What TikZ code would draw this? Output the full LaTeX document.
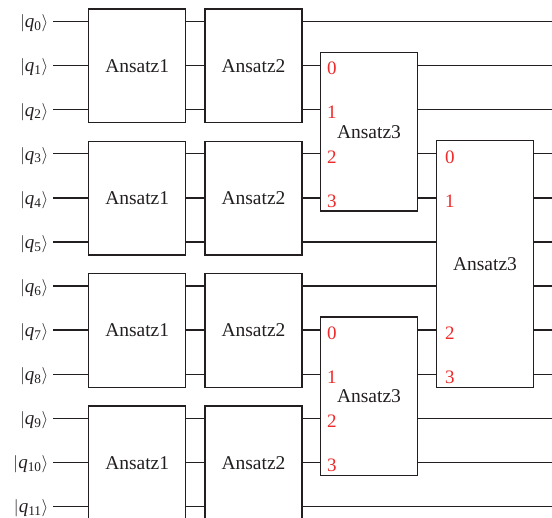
\documentclass[tikz,border=0pt]{standalone}
\usepackage{fontspec}
\setmainfont{Liberation Serif}
\definecolor{ink}{HTML}{231F20}
\definecolor{portred}{HTML}{EE2A2A}
\begin{document}
\begin{tikzpicture}[x=1pt,y=-1pt,
  wire/.style={draw=ink, line width=1.4pt},
  gate/.style={draw=ink, line width=1.4pt, fill=white, minimum width=97pt, inner sep=0pt,
    font=\fontsize{19.5}{22}\selectfont, text=ink},
  port/.style={text=portred, anchor=west, inner sep=0pt, font=\fontsize{19}{22}\selectfont},
  qlabel/.style={anchor=east, inner xsep=4.5pt, inner ysep=0pt, font=\fontsize{19}{22}\selectfont, text=ink}]
\useasboundingbox (0,0) rectangle (552,518);
% wires
\foreach \i in {0,...,11} {
  \pgfmathsetmacro\yy{21.5+44.1*\i}
  \coordinate (s\i) at (53,\yy);
  \coordinate (e\i) at (552,\yy);
  \node[qlabel, yshift=-2pt] (q\i) at (s\i) {$|$\textit{q}\textsubscript{\i}$\rangle$};
  \draw[wire] (s\i) -- (e\i);
}
% Ansatz1 and Ansatz2 layers
\foreach \g/\c in {0/65.85, 1/198.15, 2/330.45, 3/462.75} {
  \node[gate, minimum height=113.7pt] (Aa\g) at (137.2,\c) {Ansatz1};
  \node[gate, minimum height=113.7pt] (Ab\g) at (253.5,\c) {Ansatz2};
}
% Ansatz3 gates
\node[gate, minimum height=158.3pt] (T) at (369,131.75) {Ansatz3};
\node[gate, minimum height=158.3pt] (B) at (369,396.35) {Ansatz3};
\node[gate, minimum height=246.5pt] (C) at (485,264.05) {Ansatz3};
% port labels
\foreach \r/\l in {1/0, 2/1, 3/2, 4/3}
  \node[port, xshift=7pt, yshift=-3pt] at (T.west |- s\r) {\l};
\foreach \r/\l in {7/0, 8/1, 9/2, 10/3}
  \node[port, xshift=7pt, yshift=-3pt] at (B.west |- s\r) {\l};
\foreach \r/\l in {3/0, 4/1, 7/2, 8/3}
  \node[port, xshift=9pt, yshift=-3pt] at (C.west |- s\r) {\l};
\end{tikzpicture}
\end{document}
